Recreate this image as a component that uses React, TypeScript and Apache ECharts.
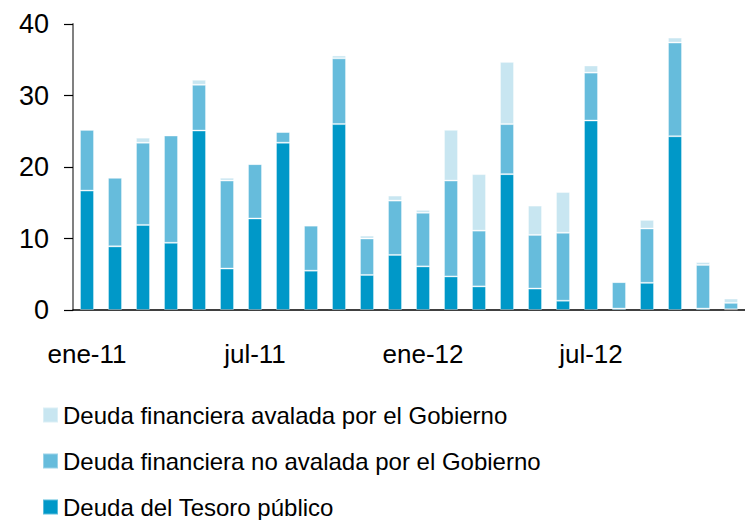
import React, { useEffect, useRef } from "react";
import * as echarts from "echarts";

const categories = [
  "ene-11", "feb-11", "mar-11", "abr-11", "may-11", "jun-11",
  "jul-11", "ago-11", "sep-11", "oct-11", "nov-11", "dic-11",
  "ene-12", "feb-12", "mar-12", "abr-12", "may-12", "jun-12",
  "jul-12", "ago-12", "sep-12", "oct-12", "nov-12", "dic-12",
];

const tesoro = [16.7, 8.9, 11.9, 9.4, 25.1, 5.8, 12.8, 23.4, 5.5, 26.0, 4.9, 7.7, 6.1, 4.7, 3.3, 19.0, 3.0, 1.3, 26.5, 0.2, 3.8, 24.3, 0.2, 0.1];
const noAvalada = [8.5, 9.6, 11.5, 15.0, 6.4, 12.3, 7.6, 1.5, 6.3, 9.2, 5.1, 7.6, 7.5, 13.4, 7.8, 7.0, 7.5, 9.5, 6.7, 3.7, 7.6, 13.1, 6.1, 0.9];
const avalada = [0, 0, 0.7, 0, 0.7, 0.4, 0, 0, 0, 0.4, 0.4, 0.7, 0.4, 7.1, 7.9, 8.7, 4.1, 5.7, 1.0, 0, 1.2, 0.7, 0.4, 0.6];

const yTicks = [0, 10, 20, 30, 40];

const names = {
  avalada: "Deuda financiera avalada por el Gobierno",
  noAvalada: "Deuda financiera no avalada por el Gobierno",
  tesoro: "Deuda del Tesoro público",
};

const colors = {
  tesoro: "#0098c8",
  noAvalada: "#66bcdc",
  avalada: "#c8e6f1",
};

const FONT = "'Liberation Sans', Arial, Helvetica, sans-serif";

export default function App() {
  const ref = useRef<HTMLDivElement>(null);

  useEffect(() => {
    if (!ref.current) return;
    const chart = echarts.init(ref.current, undefined, { renderer: "svg" });
    const barBase = {
      type: "bar" as const,
      stack: "total",
      barWidth: 14,
      itemStyle: { borderColor: "rgba(255,255,255,0.35)", borderWidth: 1 },
    };
    const legendOrder = [names.avalada, names.noAvalada, names.tesoro];
    const legendTops = [398, 444, 490];
    chart.setOption({
      animation: false,
      backgroundColor: "#ffffff",
      grid: { left: 73, right: -14, top: 24, bottom: 210, containLabel: false },
      legend: legendOrder.map((n, i) => ({
        orient: "horizontal",
        left: 37,
        top: legendTops[i],
        itemWidth: 15,
        itemHeight: 15,
        itemGap: 5,
        icon: "rect",
        selectedMode: false,
        data: [n],
        textStyle: { fontFamily: FONT, fontSize: 24, color: "#000" },
      })),
      xAxis: {
        type: "category",
        data: categories,
        axisLine: { show: true, lineStyle: { color: "#000", width: 1.5 } },
        axisTick: { show: false },
        axisLabel: {
          interval: 5,
          margin: 31,
          fontFamily: FONT,
          fontSize: 26,
          color: "#000",
        },
        splitLine: { show: false },
      },
      yAxis: {
        type: "value",
        min: yTicks[0],
        max: yTicks[yTicks.length - 1],
        interval: 10,
        axisLine: { show: true, lineStyle: { color: "#808080", width: 2 } },
        axisTick: { show: true, length: 9, lineStyle: { color: "#000", width: 1.2 } },
        axisLabel: { margin: 24, fontFamily: FONT, fontSize: 27, color: "#000" },
        splitLine: { show: false },
      },
      series: [
        { ...barBase, name: names.tesoro, data: tesoro, itemStyle: { ...barBase.itemStyle, color: colors.tesoro } },
        { ...barBase, name: names.noAvalada, data: noAvalada, itemStyle: { ...barBase.itemStyle, color: colors.noAvalada } },
        { ...barBase, name: names.avalada, data: avalada, itemStyle: { ...barBase.itemStyle, color: colors.avalada } },
      ],
    });
    return () => chart.dispose();
  }, []);

  return (
    <div
      ref={ref}
      style={{ position: "fixed", left: 0, top: 0, width: 745, height: 520, background: "#fff" }}
    />
  );
}
